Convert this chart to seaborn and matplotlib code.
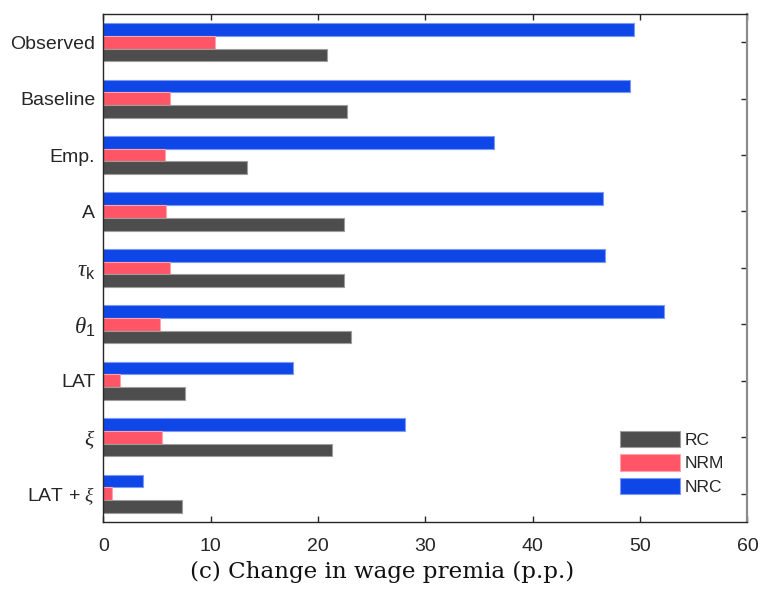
import matplotlib
matplotlib.use("Agg")
import matplotlib.pyplot as plt
import matplotlib.colors as mcolors
import numpy as np
import pandas as pd
import seaborn as sns

# Scenarios (top to bottom) and change in wage premia, percentage points
categories = ["Observed", "Baseline", "Emp.", "A", r"$\tau_{\mathrm{k}}$",
              r"$\theta_{\mathrm{1}}$", "LAT", r"$\xi$", r"LAT + $\xi$"]
rc = [20.8, 22.7, 13.4, 22.4, 22.4, 23.1, 7.6, 21.3, 7.3]
nrm = [10.4, 6.2, 5.7, 5.8, 6.2, 5.3, 1.5, 5.5, 0.8]
nrc = [49.4, 49.1, 36.4, 46.5, 46.7, 52.2, 17.7, 28.1, 3.7]

series_order = ["NRC", "NRM", "RC"]
palette = {"NRC": "#0F46E8", "NRM": "#FF5566", "RC": "#4D4D4D"}

df = pd.DataFrame({"scenario": categories, "RC": rc, "NRM": nrm, "NRC": nrc})
long = df.melt(id_vars="scenario", var_name="group", value_name="change")

sns.set_theme(style="white")
plt.rcParams["font.family"] = ["Liberation Sans", "DejaVu Sans"]
plt.rcParams["mathtext.fontset"] = "custom"
plt.rcParams["mathtext.rm"] = "Liberation Sans"
plt.rcParams["mathtext.it"] = "Liberation Serif:italic"

fig = plt.figure(figsize=(7.58, 5.97), dpi=100)
ax = fig.add_axes([0.1365, 0.126, 0.8495, 0.8505])

sns.barplot(data=long, y="scenario", x="change", hue="group",
            order=categories, hue_order=series_order, palette=palette,
            orient="h", width=0.675, ax=ax, legend=True, saturation=1)

# light outline around each bar
for p in ax.patches:
    fc = np.array(mcolors.to_rgb(p.get_facecolor()))
    p.set_edgecolor(tuple(fc + (1 - fc) * 0.45))
    p.set_linewidth(0.8)

ax.set_xlim(0, 60)
ax.set_ylim(8.5, -0.5)
ax.set_xticks(range(0, 61, 10))
ax.set_xlabel("")
ax.set_ylabel("")

text_col = "#262626"
ax.tick_params(axis="both", direction="in", length=4.5, width=1.0,
               colors="#262626", labelcolor=text_col, labelsize=14)
ax.tick_params(axis="x", top=True, bottom=True, pad=12)
ax.tick_params(axis="y", left=True, right=True, pad=6)
# Greek symbol labels with subscripts read a bit larger
for lab in ax.get_yticklabels():
    if "tau" in lab.get_text() or "theta" in lab.get_text():
        lab.set_fontsize(16.5)
    elif lab.get_text() == r"$\xi$":
        lab.set_fontsize(15.5)
for side in ["left", "bottom", "top"]:
    ax.spines[side].set_color("#262626")
    ax.spines[side].set_linewidth(1.0)
ax.spines["right"].set_color("#8C8C8C")
ax.spines["right"].set_linewidth(1.6)

# legend: RC, NRM, NRC
handles, labels = ax.get_legend_handles_labels()
order = [labels.index(k) for k in ["RC", "NRM", "NRC"]]
ax.legend([handles[i] for i in order], [labels[i] for i in order],
          loc="upper left", bbox_to_anchor=(620 / 758, 1 - 431 / 597),
          bbox_transform=fig.transFigure, frameon=False, fontsize=12.5,
          handlelength=3.45, handleheight=1.05, labelspacing=0.37,
          handletextpad=0.25, borderpad=0, borderaxespad=0)
for t in ax.get_legend().get_texts():
    t.set_color(text_col)

fig.text(382 / 758, 1 - 572 / 597, "(c) Change in wage premia (p.p.)",
         ha="center", va="center", fontsize=16.6, family="DejaVu Serif",
         color="#111111")

fig.savefig("out.png", dpi=100)
